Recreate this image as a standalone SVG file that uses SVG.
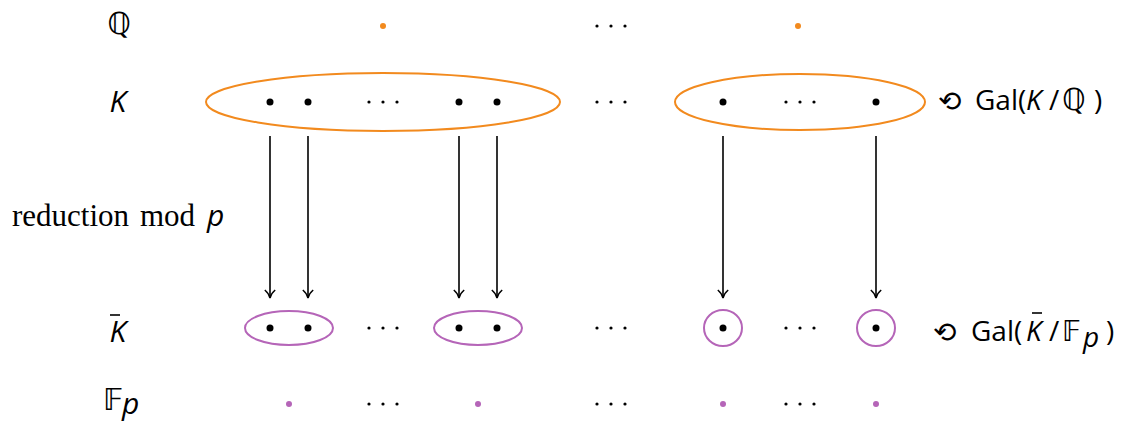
<svg xmlns="http://www.w3.org/2000/svg" width="1122" height="421" viewBox="0 0 1122 421">
  <style>
    .lbl { font-family: "Open Sans", "Noto Sans", "DejaVu Sans", sans-serif; font-size: 30px; fill: #000; }
    .gal { font-family: "Open Sans", "Noto Sans", "DejaVu Sans", sans-serif; font-size: 28px; fill: #000; }
    .it { font-style: italic; }
    .rm { font-family: "Liberation Serif", "DejaVu Serif", serif; font-size: 31px; fill: #000; }
    .sym { font-family: "DejaVu Sans", sans-serif; fill: #000; }
    .circ { font-family: "DejaVu Sans", sans-serif; font-size: 28px; fill: #000; }
    .orange { fill: none; stroke: #F28A1E; stroke-width: 2; }
    .purple { fill: none; stroke: #B565B8; stroke-width: 2; }
    .od { fill: #F28A1E; }
    .pd { fill: #B565B8; }
    .bd { fill: #000; }
    .bar { stroke: #000; stroke-width: 1.6; }
    .arr { stroke: #000; stroke-width: 1.6; fill: none; marker-end: url(#head); }
  </style>
  <defs>
    <marker id="head" viewBox="0 0 11 12" refX="10" refY="6" markerWidth="11" markerHeight="12" markerUnits="userSpaceOnUse" orient="auto">
      <path d="M2,0.8 Q5.5,5 10,6 Q5.5,7 2,11.2" fill="none" stroke="#000" stroke-width="1.5"/>
    </marker>
    <g id="ell">
      <circle cx="-14" cy="0" r="1.6"/>
      <circle cx="0" cy="0" r="1.6"/>
      <circle cx="14" cy="0" r="1.6"/>
    </g>
  </defs>

  <!-- row labels -->
  <g id="labels">
    <text class="sym" x="119" y="34" font-size="30" text-anchor="middle">ℚ</text>
    <text class="lbl it" x="118" y="112" text-anchor="middle">K</text>
    <g id="kbar-label">
      <text class="lbl it" x="118" y="342" text-anchor="middle">K</text>
      <line class="bar" x1="110" y1="315" x2="120" y2="315"/>
    </g>
    <text class="sym" x="103" y="410" font-size="30">𝔽</text>
    <text class="lbl it" x="122" y="414" font-size="20">p</text>
    <g id="reduction-label">
      <text class="rm" x="12" y="226">reduction</text>
      <text class="rm" x="140" y="226">mod</text>
      <text class="lbl it" x="207" y="226">p</text>
    </g>
  </g>

  <!-- Q row -->
  <g id="row-Q">
    <circle class="od" cx="383" cy="26" r="3"/>
    <use href="#ell" x="611" y="26"/>
    <circle class="od" cx="798" cy="26" r="3"/>
  </g>

  <!-- K row -->
  <g id="row-K">
    <ellipse class="orange" cx="383" cy="102" rx="177" ry="29"/>
    <ellipse class="orange" cx="800" cy="102" rx="125" ry="28"/>
    <circle class="bd" cx="270" cy="102" r="3.5"/>
    <circle class="bd" cx="308" cy="102" r="3.5"/>
    <use href="#ell" x="383" y="102"/>
    <circle class="bd" cx="459" cy="102" r="3.5"/>
    <circle class="bd" cx="497" cy="102" r="3.5"/>
    <use href="#ell" x="611" y="102"/>
    <circle class="bd" cx="723" cy="102" r="3.5"/>
    <use href="#ell" x="800" y="102"/>
    <circle class="bd" cx="876" cy="102" r="3.5"/>
    <g id="gal-K">
      <text class="circ" x="938" y="111">⟲</text>
      <text class="gal" x="975" y="110">Gal(</text>
      <text class="gal it" x="1026" y="110">K</text>
      <text class="gal" x="1049" y="110" font-size="30">/</text>
      <text class="sym" x="1062" y="110" font-size="30">ℚ</text>
      <text class="gal" x="1094" y="110">)</text>
    </g>
  </g>

  <!-- reduction arrows -->
  <g id="connectors">
    <line class="arr" x1="270" y1="136" x2="270" y2="298"/>
    <line class="arr" x1="308" y1="136" x2="308" y2="298"/>
    <line class="arr" x1="459" y1="136" x2="459" y2="298"/>
    <line class="arr" x1="497" y1="136" x2="497" y2="298"/>
    <line class="arr" x1="723" y1="136" x2="723" y2="298"/>
    <line class="arr" x1="876" y1="136" x2="876" y2="298"/>
  </g>

  <!-- K bar row -->
  <g id="row-Kbar">
    <ellipse class="purple" cx="289" cy="328" rx="44" ry="17"/>
    <ellipse class="purple" cx="478" cy="328" rx="44" ry="17"/>
    <ellipse class="purple" cx="723" cy="328" rx="19" ry="18"/>
    <ellipse class="purple" cx="876" cy="328" rx="19" ry="18"/>
    <circle class="bd" cx="270" cy="328" r="3.5"/>
    <circle class="bd" cx="308" cy="328" r="3.5"/>
    <use href="#ell" x="383" y="328"/>
    <circle class="bd" cx="459" cy="328" r="3.5"/>
    <circle class="bd" cx="497" cy="328" r="3.5"/>
    <use href="#ell" x="611" y="328"/>
    <circle class="bd" cx="723" cy="328" r="3.5"/>
    <use href="#ell" x="800" y="328"/>
    <circle class="bd" cx="876" cy="328" r="3.5"/>
    <g id="gal-Kbar">
      <text class="circ" x="933" y="342">⟲</text>
      <text class="gal" x="971" y="341">Gal(</text>
      <text class="gal it" x="1026" y="341">K</text>
      <line class="bar" x1="1032" y1="313" x2="1042" y2="313"/>
      <text class="gal" x="1049" y="341" font-size="30">/</text>
      <text class="sym" x="1062" y="341" font-size="28">𝔽</text>
      <text class="gal it" x="1083" y="347" font-size="19">p</text>
      <text class="gal" x="1106" y="341">)</text>
    </g>
  </g>

  <!-- F_p row -->
  <g id="row-Fp">
    <circle class="pd" cx="289" cy="404" r="3"/>
    <use href="#ell" x="383" y="404"/>
    <circle class="pd" cx="478" cy="404" r="3"/>
    <use href="#ell" x="611" y="404"/>
    <circle class="pd" cx="723" cy="404" r="3"/>
    <use href="#ell" x="800" y="404"/>
    <circle class="pd" cx="876" cy="404" r="3"/>
  </g>
</svg>
